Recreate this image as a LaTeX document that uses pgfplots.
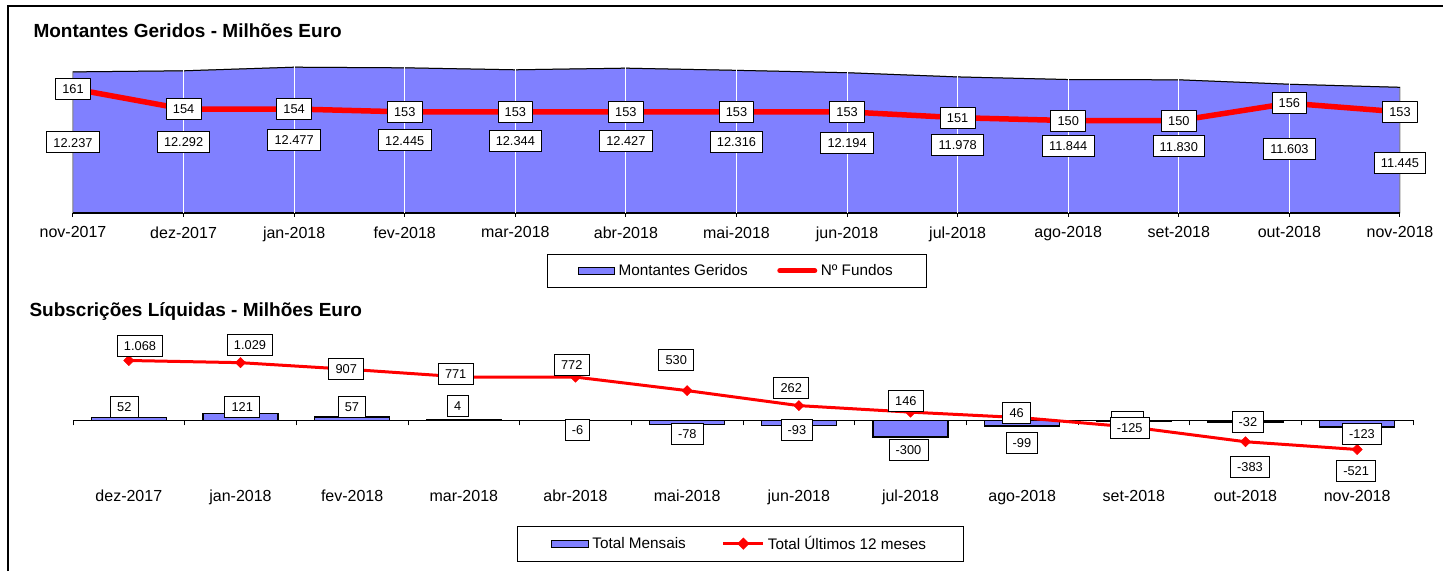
\documentclass[border=0pt]{standalone}
\usepackage{fontspec}
\setmainfont{Liberation Sans}
\usepackage{pgfplots}
\pgfplotsset{compat=1.18}
\definecolor{areablue}{RGB}{128,128,255}
\tikzset{labelbox/.style={fill=white, draw=black, text=black, line width=0.9pt, inner xsep=6.7pt, inner ysep=0pt, minimum height=21pt, text height=9.2pt, text depth=0pt, font=\fontsize{12.8}{15}\selectfont, anchor=center}}
\begin{document}
\begin{tikzpicture}
\useasboundingbox (0pt,0pt) rectangle (1443pt,571pt);
\draw[line width=2pt] (8.3pt,0pt) -- (8.3pt,565.3pt) -- (1443pt,565.3pt);
\node[anchor=base west, inner sep=0pt, font=\bfseries\fontsize{19}{22}\selectfont] at (33.3pt,533.7pt) {Montantes Geridos - Milhões Euro};
\node[anchor=base west, inner sep=0pt, font=\bfseries\fontsize{19}{22}\selectfont] at (29.3pt,254.3pt) {Subscrições Líquidas - Milhões Euro};

% ---------- top panel, primary axis ----------
\begin{axis}[at={(73pt,358pt)}, anchor=south west, scale only axis, width=1327pt, height=156pt,
  xmin=0, xmax=12, ymin=5000, ymax=13000,
  axis y line=none, axis x line*=bottom, x axis line style={line width=1.8pt},
  xtick={0,...,12},
  xticklabels={nov-2017,dez-2017,jan-2018,fev-2018,mar-2018,abr-2018,mai-2018,jun-2018,jul-2018,ago-2018,set-2018,out-2018,nov-2018},
  tick align=outside, major tick length=4pt, tick style={black, line width=1pt},
  xticklabel style={font=\fontsize{16}{19}\selectfont, yshift=-6pt},
  extra x ticks={1,...,11}, extra x tick labels={},
  extra x tick style={xmajorgrids=true, major tick length=0pt},
  major grid style={white, line width=1pt},
  axis on top, clip=false]
\addplot[fill=areablue, draw=gray, line width=1pt] coordinates {(0,5000) (0,12237) (1,12292) (2,12477) (3,12445) (4,12344) (5,12427) (6,12316) (7,12194) (8,11978) (9,11844) (10,11830) (11,11603) (12,11445) (12,5000)} -- cycle;
\addplot[black, line width=1pt] coordinates {(0,12237) (1,12292) (2,12477) (3,12445) (4,12344) (5,12427) (6,12316) (7,12194) (8,11978) (9,11844) (10,11830) (11,11603) (12,11445)};
\addplot[draw=none, mark=none, nodes near coords, point meta=explicit symbolic, every node near coord/.append style={labelbox}] coordinates {(0,8619)[12.237] (1,8646)[12.292] (2,8738)[12.477] (3,8722)[12.445] (4,8672)[12.344] (5,8713)[12.427] (6,8658)[12.316] (7,8597)[12.194] (8,8489)[11.978] (9,8422)[11.844] (10,8415)[11.830] (11,8301)[11.603] (12,7590)[11.445]};
\end{axis}

% ---------- top panel, secondary axis ----------
\begin{axis}[at={(73pt,358pt)}, anchor=south west, scale only axis, width=1327pt, height=156pt,
  xmin=0, xmax=12, ymin=118, ymax=172, axis lines=none, xtick=\empty, ytick=\empty, clip=false,
  legend style={at={(0.5004,-0.3705)}, anchor=center, draw=black, line width=1pt,
    font=\fontsize{15.3}{18}\selectfont, legend columns=2, inner xsep=30pt, inner ysep=7pt,
    nodes={inner sep=3.5pt}, /tikz/every even column/.append style={column sep=26pt}},
  legend cell align=left]
\addlegendimage{legend image code/.code={\draw[fill=areablue, draw=black, line width=1.2pt] (0pt,-3.5pt) rectangle (36pt,3.5pt);}}
\addlegendentry{Montantes Geridos}
\addplot[red, line width=5.5pt, line join=round, mark=none, nodes near coords, point meta=explicit symbolic,
  every node near coord/.append style={labelbox},
  legend image code/.code={\draw[red, line width=5pt, line cap=round] (2.5pt,0pt) -- (37.5pt,0pt);}]
  coordinates {(0,161)[161] (1,154)[154] (2,154)[154] (3,153)[153] (4,153)[153] (5,153)[153] (6,153)[153] (7,153)[153] (8,151)[151] (9,150)[150] (10,150)[150] (11,156)[156] (12,153)[153]};
\addlegendentry{Nº Fundos}
\end{axis}

% ---------- bottom panel ----------
\begin{axis}[at={(73pt,94.7pt)}, anchor=south west, scale only axis, width=1340pt, height=140pt,
  xmin=-0.5, xmax=11.5, ymin=-1000, ymax=1500,
  axis y line=none, axis x line*=middle, hide obscured x ticks=false,
  x axis line style={line width=1pt},
  xtick={0,...,11},
  xticklabels={dez-2017,jan-2018,fev-2018,mar-2018,abr-2018,mai-2018,jun-2018,jul-2018,ago-2018,set-2018,out-2018,nov-2018},
  major tick length=0pt, minor xtick={-0.5,0.5,...,11.5}, minor tick length=5pt,
  tick align=outside, tick style={black, line width=1pt},
  xticklabel style={font=\fontsize{16}{19}\selectfont, yshift=-66pt},
  clip=false,
  legend style={at={(0.4978,-0.4814)}, anchor=center, draw=black, line width=1pt,
    font=\fontsize{15.3}{18}\selectfont, legend columns=2, inner xsep=34pt, inner ysep=7pt,
    nodes={inner sep=3pt}, /tikz/every even column/.append style={column sep=33pt}},
  legend cell align=left]
\addplot[ybar, bar width=0.672, fill=areablue, draw=black, line width=1.5pt,
  legend image code/.code={\draw[fill=areablue, draw=black, line width=1.3pt] (0pt,-3.5pt) rectangle (37pt,3.5pt);}]
  coordinates {(0,52) (1,121) (2,57) (3,4) (4,-6) (5,-78) (6,-93) (7,-300) (8,-99) (9,-13) (10,-32) (11,-123)};
\addlegendentry{Total Mensais}
\addplot[red, line width=3pt, mark=square*, mark size=3.6pt, mark options={rotate=45, solid, line width=0.5pt, fill=red},
  legend image code/.code={\draw[red, line width=3pt] (0pt,0pt) -- (40pt,0pt); \fill[red] (20pt,4pt) -- (24pt,0pt) -- (20pt,-4pt) -- (16pt,0pt) -- cycle;}]
  coordinates {(0,1068) (1,1029) (2,907) (3,771) (4,772) (5,530) (6,262) (7,146) (8,46) (9,-125) (10,-383) (11,-521)};
\addlegendentry{Total Últimos 12 meses}
\addplot[draw=none, mark=none, nodes near coords, point meta=explicit symbolic, every node near coord/.append style={labelbox}]
  coordinates {(-0.04,243)[52] (1.016,232)[121] (1.998,237)[57] (2.945,255)[4] (4.018,-173)[-6] (5.001,-250)[-78] (5.983,-173)[-93] (6.982,-530)[-300] (7.998,-405)[-99] (8.943,-30)[-13] (10.022,-21)[-32] (11.043,-236)[-123]};
\addplot[draw=none, mark=none, nodes near coords, point meta=explicit symbolic, every node near coord/.append style={labelbox}]
  coordinates {(0.1,1327)[1.068] (1.085,1345)[1.029] (1.947,916)[907] (2.927,821)[771] (3.966,987)[772] (4.902,1077)[530] (5.932,571)[262] (6.959,350)[146] (7.951,130)[46] (8.963,-137)[-125] (10.04,-825)[-383] (10.991,-905)[-521]};
\end{axis}
\end{tikzpicture}
\end{document}
